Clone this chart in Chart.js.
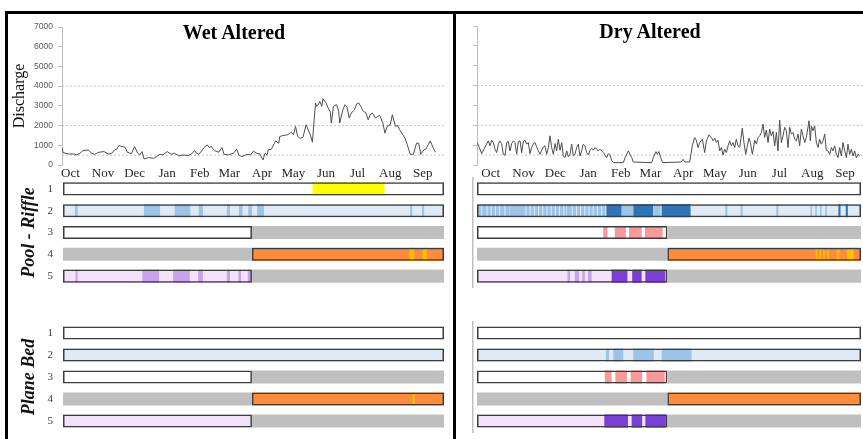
<!DOCTYPE html>
<html>
<head>
<meta charset="utf-8">
<script src="https://cdn.jsdelivr.net/npm/chart.js@4.4.1/dist/chart.umd.min.js"></script>
<style>
  body { margin: 0; background: #fff; width: 863px; height: 439px; overflow: hidden; position: relative; }
  canvas { position: absolute; }
  .line { position: absolute; background: #000; }
  .title { position: absolute; width: 240px; text-align: center; font: bold 20px "Liberation Serif", serif; line-height: 20px; color: #000; }
</style>
</head>
<body>
<canvas id="wetFlow" width="444" height="170" style="left:9px;top:15px"></canvas>
<canvas id="dryFlow" width="406" height="170" style="left:457px;top:15px"></canvas>
<canvas id="wetRiffle" width="444" height="123" style="left:9px;top:171px"></canvas>
<canvas id="dryRiffle" width="406" height="123" style="left:457px;top:171px"></canvas>
<canvas id="wetPlane" width="444" height="124" style="left:9px;top:315px"></canvas>
<canvas id="dryPlane" width="406" height="124" style="left:457px;top:315px"></canvas>

<div class="line" style="left:5px;top:11px;width:858px;height:3px"></div>
<div class="line" style="left:5px;top:11px;width:3px;height:428px"></div>
<div class="line" style="left:453px;top:11px;width:3px;height:428px"></div>
<div class="title" style="left:114px;top:22px">Wet Altered</div>
<div class="title" style="left:530px;top:21px">Dry Altered</div>

<script>
const serif = '"Liberation Serif", serif';
const sans = '"Liberation Sans", sans-serif';

const months = ["Oct", "Nov", "Dec", "Jan", "Feb", "Mar", "Apr", "May", "Jun", "Jul", "Aug", "Sep"];
const monthStart = [0, 31, 61, 92, 123, 151, 182, 212, 243, 273, 304, 335];
const guideLines = [500, 2000, 4000];
const rowLabels = ["1", "2", "3", "4", "5"];

// daily discharge, day 0 = Oct 1
const wetDay = [
  0, 1, 6, 11, 14, 17, 20, 25, 28, 31,
  35, 40, 44, 47, 50, 52, 54, 57, 60, 62,
  66, 69, 72, 74, 76, 78, 82, 87, 90, 93,
  96, 100, 104, 107, 111, 115, 120, 123, 126, 128,
  130, 133, 135, 138, 140, 142, 145, 149, 152, 154,
  158, 163, 166, 168, 171, 176, 179, 182, 185, 188,
  191, 193, 195, 196, 199, 202, 203, 206, 207, 210,
  214, 216, 218, 220, 222, 224, 226, 229, 232, 234,
  236, 238, 241, 242, 244, 245, 247, 248, 251, 253,
  255, 256, 258, 261, 263, 264, 267, 269, 271, 273,
  275, 278, 280, 282, 284, 286, 289, 291, 293, 295,
  298, 300, 302, 305, 307, 309, 312, 314, 317, 319,
  321, 324, 326, 328, 331, 334, 337, 339, 341, 344,
  346, 348, 350, 353, 355
];
const wetQ = [
  880, 630, 560, 560, 510, 595, 730, 765, 595, 545,
  645, 680, 560, 580, 765, 800, 985, 935, 900, 645,
  580, 935, 595, 510, 680, 305, 375, 340, 425, 545,
  510, 680, 545, 595, 460, 510, 475, 560, 730, 595,
  545, 730, 885, 1020, 885, 935, 730, 645, 885, 545,
  510, 595, 815, 510, 425, 545, 510, 700, 595, 560,
  255, 595, 510, 765, 800, 1105, 1225, 1105, 1445, 1495,
  1530, 1580, 1665, 1530, 1955, 1445, 1360, 1395, 2040, 1785,
  1530, 1155, 3145, 2975, 3095, 3230, 2975, 3365, 3145, 2890,
  2685, 2125, 2975, 3060, 2720, 2125, 2805, 3060, 2925, 2380,
  2635, 2805, 3095, 3145, 2975, 2755, 2635, 2295, 2550, 2635,
  2380, 2465, 2515, 2125, 1615, 1955, 2040, 2550, 1955, 2005,
  1785, 1530, 1360, 1055, 545, 545, 1105, 1105, 545, 765,
  815, 1020, 1225, 850, 645
];
const dryDay = [
  0.3, 2.2, 4.4, 6.6, 9.1, 10.7, 12.3, 13.9, 15.4, 17.0,
  18.6, 20.2, 21.7, 23.3, 24.9, 26.5, 28.1, 29.6, 31.2, 32.8,
  34.4, 35.9, 37.5, 39.1, 40.7, 42.2, 43.8, 45.4, 47.0, 48.5,
  50.1, 51.7, 53.3, 54.8, 56.4, 58.0, 59.6, 61.2, 62.7, 64.3,
  65.9, 67.5, 69.0, 70.6, 72.2, 73.8, 75.3, 76.9, 78.5, 80.1,
  81.6, 83.2, 84.8, 86.4, 87.9, 89.5, 91.1, 92.7, 94.2, 95.8,
  97.4, 99.0, 100.5, 102.1, 103.7, 105.3, 106.9, 108.4, 110.0, 111.6,
  113.2, 114.7, 116.3, 117.9, 119.5, 121.0, 122.6, 124.2, 125.8, 127.3,
  128.9, 138.4, 140.0, 143.1, 144.7, 146.3, 147.8, 165.2, 166.7, 169.3,
  170.5, 172.1, 173.7, 175.6,
  193.2, 194.8, 196.4, 201.1, 203.6, 205.8, 207.4, 209.0, 210.6, 213.1,
  215.3, 216.9, 219.4, 221.6, 223.2, 224.8, 226.3, 227.9, 229.5, 231.1,
  232.6, 234.2, 235.8, 237.4, 238.9, 240.5, 242.1, 243.7, 245.2, 246.8,
  248.4, 250.9, 252.2, 254.1, 255.3, 257.2, 258.5, 260.4, 262.6, 264.2,
  265.7, 267.3, 268.9, 270.5, 272.0, 273.6, 275.2, 276.8, 278.3, 279.9,
  281.5, 283.1, 284.6, 286.2, 287.8, 289.4, 290.9, 292.5, 294.1, 295.7,
  297.3, 298.8, 300.4, 302.0, 303.6, 305.1, 306.7, 308.3, 309.9, 311.4,
  314.0, 315.2, 316.2, 317.7, 319.3, 320.9, 322.5, 324.0, 325.6, 327.2,
  328.8, 330.3, 331.9, 333.5, 335.1, 336.6, 338.2, 339.8, 341.4, 342.9,
  344.5, 346.1, 347.7, 349.3, 350.8, 352.4, 354.0, 355.6, 357.1, 358.7,
  360.3, 361.9
];
const dryQ = [
  1130, 880, 575, 795, 1050, 1215, 965, 1250, 1130, 795,
  625, 1050, 1215, 1080, 540, 490, 1130, 1185, 710, 1080,
  1215, 1130, 540, 1185, 1215, 625, 1185, 1250, 1050, 1130,
  575, 880, 1080, 1130, 915, 710, 540, 745, 915, 965,
  540, 880, 1470, 880, 540, 1080, 710, 1300, 745, 1130,
  455, 370, 710, 405, 540, 1050, 455, 540, 880, 1050,
  455, 710, 1050, 965, 625, 505, 745, 845, 745, 880,
  795, 710, 795, 710, 625, 490, 370, 575, 490, 235,
  120, 120, 370, 710, 540, 370, 150, 120, 370, 675,
  540, 675, 370, 120,
  150, 285, 150, 150, 965, 1385, 1250, 880, 1130, 1300,
  625, 1215, 1520, 1385, 1215, 1350, 1130, 1250, 710, 880,
  505, 795, 625, 965, 1215, 965, 1130, 880, 1300, 965,
  880, 1860, 1215, 540, 880, 1350, 1130, 540, 1250, 1050,
  1385, 1470, 1640, 2060, 1385, 1760, 1130, 1810, 1470, 1690,
  965, 1640, 710, 2265, 1130, 1470, 1895, 1725, 880, 1895,
  1555, 1640, 1300, 1215, 1555, 965, 1810, 1470, 1130, 1385,
  2230, 1215, 1975, 1725, 1975, 1130, 880, 1300, 1050, 1215,
  1555, 745, 710, 540, 880, 710, 965, 540, 370, 880,
  455, 1130, 710, 370, 1050, 540, 795, 455, 710, 370,
  540, 455
];

// timeline segments: [row, startDay, endDay, state]
const outlined = [[1, 0, 365], [2, 0, 365], [3, 0, 181], [4, 181, 365], [5, 0, 181]];

const wetRiffle = [
  [1, 0, 365, "W"], [1, 239, 308, "Y"],
  [2, 0, 365, "LB"], [2, 11.5, 14, "MB"], [2, 77.5, 93, "MB"], [2, 107, 122, "MB"], [2, 130, 134, "MB"],
  [2, 157, 160, "MB"], [2, 168.5, 172, "MB"], [2, 177.5, 181, "MB"], [2, 186, 192.5, "MB"],
  [2, 332.5, 334.5, "MB"], [2, 344, 346, "MB"],
  [3, 0, 181, "W"], [3, 181, 365, "GR"],
  [4, 0, 181, "GR"], [4, 181, 365, "OR"], [4, 332, 336.5, "GD"], [4, 344.5, 348.5, "GD"],
  [5, 0, 181, "LV"], [5, 181, 365, "GR"], [5, 12, 14, "LP"], [5, 76, 92, "LP"], [5, 105.5, 121.5, "LP"],
  [5, 129.5, 134, "LP"], [5, 157, 160, "LP"], [5, 168, 170.5, "LP"], [5, 177, 180, "LP"]
];
const wetPlane = [
  [1, 0, 365, "W"],
  [2, 0, 365, "LB"],
  [3, 0, 181, "W"], [3, 181, 365, "GR"],
  [4, 0, 181, "GR"], [4, 181, 365, "OR"], [4, 335, 337, "GD"],
  [5, 0, 181, "LV"], [5, 181, 365, "GR"]
];
const dryRiffle = [
  [1, 0, 365, "W"],
  [2, 0, 365, "LB"],
  [2, 1, 4, "MB"], [2, 5, 9, "MB"], [2, 10, 13, "MB"], [2, 14, 17, "MB"], [2, 18, 21, "MB"], [2, 22, 26, "MB"],
  [2, 27, 31, "MB"], [2, 31.5, 46, "MB"], [2, 47, 50, "MB"], [2, 51, 54, "MB"], [2, 55, 58, "MB"], [2, 59, 62, "MB"],
  [2, 63, 66, "MB"], [2, 67, 70, "MB"], [2, 71, 74, "MB"], [2, 75, 78, "MB"], [2, 79, 82, "MB"], [2, 83, 85, "MB"],
  [2, 85.5, 90, "MB"], [2, 91, 94, "MB"], [2, 95, 98, "MB"], [2, 99, 102, "MB"], [2, 103, 106, "MB"],
  [2, 107, 110, "MB"], [2, 111, 114, "MB"], [2, 115, 118, "MB"], [2, 119, 122, "MB"],
  [2, 123, 137.5, "DB"], [2, 137.5, 148.5, "MB"], [2, 148.5, 167.5, "DB"], [2, 168, 174.5, "MB"], [2, 175.5, 203, "DB"],
  [2, 236, 238, "MB"], [2, 250.5, 252.5, "MB"], [2, 284.5, 286.5, "MB"], [2, 317, 318.5, "MB"], [2, 321.5, 323, "MB"],
  [2, 326, 327.5, "MB"], [2, 331, 332.5, "MB"], [2, 343.5, 345.5, "DB"], [2, 350.5, 352.5, "DB"],
  [3, 0, 181, "W"], [3, 181, 365, "GR"], [3, 120, 124, "PK"], [3, 131, 141.5, "PK"], [3, 144.5, 156.5, "PK"], [3, 159.5, 176.5, "PK"],
  [4, 0, 181, "GR"], [4, 181, 365, "OR"], [4, 322, 323.5, "GD"], [4, 325.5, 327, "GD"], [4, 329, 330.5, "GD"],
  [4, 333, 334.5, "GD"], [4, 342, 344.5, "GD"], [4, 351.5, 358, "GD"],
  [5, 0, 181, "LV"], [5, 181, 365, "GR"], [5, 86, 88.5, "LP"], [5, 93, 97, "LP"], [5, 100, 102.5, "LP"], [5, 105.5, 109, "LP"],
  [5, 128, 143, "DP"], [5, 147.5, 156.5, "DP"], [5, 160, 179, "DP"]
];
const dryPlane = [
  [1, 0, 365, "W"],
  [2, 0, 365, "LB"], [2, 122.5, 125.5, "MB"], [2, 129.5, 139, "MB"], [2, 148.5, 168, "MB"], [2, 175.5, 204, "MB"],
  [3, 0, 181, "W"], [3, 181, 365, "GR"], [3, 121.5, 128, "PK"], [3, 131.5, 142.5, "PK"], [3, 146, 157, "PK"], [3, 161, 178.5, "PK"],
  [4, 0, 181, "GR"], [4, 181, 365, "OR"],
  [5, 0, 181, "LV"], [5, 181, 365, "GR"], [5, 121, 143.5, "DP"], [5, 147, 157, "DP"], [5, 160, 179.5, "DP"]
];

const palette = {
  W: "#ffffff", LB: "#deebf7", MB: "#9dc3e6", DB: "#2e75b6", Y: "#ffff00", GR: "#bfbfbf",
  OR: "#fd8d3c", GD: "#ffc000", PK: "#f99a9a", LV: "#f3e2fa", LP: "#c9a2ee", DP: "#7a3fd6"
};
const baseStates = ["W", "LB", "LV", "GR", "OR"];

function barSets(segs) {
  const states = [...new Set(segs.map(s => s[3]))];
  const sets = states.map(k => ({
    data: segs.filter(s => s[3] === k).map(s => ({ y: String(s[0]), x: [s[1], s[2]] })),
    backgroundColor: palette[k],
    borderWidth: 0,
    grouped: false,
    barPercentage: 0.6,
    categoryPercentage: 1,
    order: baseStates.includes(k) ? 3 : 2
  }));
  sets.push({
    data: outlined.map(s => ({ y: String(s[0]), x: [s[1], s[2]] })),
    backgroundColor: "rgba(0,0,0,0)",
    borderColor: "#3c3c3c",
    borderWidth: 1.5,
    borderSkipped: false,
    grouped: false,
    barPercentage: 0.6,
    categoryPercentage: 1,
    order: 1
  });
  return sets;
}

function barChart(id, segs, o) {
  new Chart(document.getElementById(id), {
    type: "bar",
    data: { labels: rowLabels, datasets: barSets(segs) },
    options: {
      indexAxis: "y",
      responsive: false,
      animation: false,
      layout: { padding: { top: 7, bottom: 7, right: o.padR, left: 0 } },
      plugins: { legend: { display: false }, tooltip: { enabled: false } },
      scales: {
        x: { type: "linear", min: o.xMin, max: 365, display: false },
        y: {
          type: "category",
          grid: { display: false, drawTicks: true, tickLength: 10 },
          border: { display: o.axisLine, color: "#bfbfbf", width: 1.5 },
          ticks: { display: o.rowNums, font: { family: serif, size: 11 }, color: "#404040", padding: 0 },
          title: {
            display: !!o.title, text: o.title, color: "#111",
            font: { family: serif, size: 18, weight: "bold", style: "italic" },
            padding: { top: 10, bottom: 0 }
          },
          afterFit(s) { s.width = o.axisW; }
        }
      }
    }
  });
}

function flowChart(id, days, flows, o) {
  const guides = guideLines.map(v => ({
    data: [{ x: 0, y: v }, { x: 365, y: v }],
    borderColor: "#c4c4c4", borderWidth: 1, borderDash: [2, 2], pointRadius: 0
  }));
  new Chart(document.getElementById(id), {
    type: "line",
    data: {
      datasets: [
        { data: days.map((d, i) => ({ x: d, y: flows[i] })), borderColor: "#4d4d4d", borderWidth: 1, pointRadius: 0 },
        ...guides
      ]
    },
    options: {
      responsive: false,
      animation: false,
      layout: { padding: { top: o.padT, right: o.padR, left: 0, bottom: 0 } },
      plugins: { legend: { display: false }, tooltip: { enabled: false } },
      scales: {
        x: {
          type: "linear", min: 0, max: 365,
          grid: { display: false, drawTicks: false }, border: { display: false },
          afterBuildTicks(s) { s.ticks = monthStart.map(d => ({ value: d + o.labelShift })); },
          ticks: {
            autoSkip: false, maxRotation: 0, padding: 1, color: "#262626",
            font: { family: serif, size: 13 },
            callback: (v, i) => months[i]
          },
          afterFit(s) { s.height = 20; }
        },
        y: {
          min: 0, max: 7000,
          grid: { color: "rgba(0,0,0,0)", tickColor: "#bfbfbf", tickLength: 4, drawTicks: true },
          border: { display: true, color: "#bfbfbf" },
          ticks: {
            stepSize: 1000, display: o.yLabels, color: "#595959", padding: 5,
            font: { family: sans, size: 8.5 },
            callback: v => String(v)
          },
          title: {
            display: !!o.title, text: o.title, color: "#111",
            font: { family: serif, size: 16 }, padding: { top: 1, bottom: 0 }
          },
          afterFit(s) { s.width = o.axisW; }
        }
      }
    }
  });
}

flowChart("wetFlow", wetDay, wetQ, { padT: 12, padR: 7, axisW: 53, labelShift: 8, yLabels: true, title: "Discharge" });
flowChart("dryFlow", dryDay, dryQ, { padT: 11, padR: 0, axisW: 20, labelShift: 13, yLabels: false, title: "" });

barChart("wetRiffle", wetRiffle, { padR: 9, axisW: 54, xMin: 0, axisLine: false, rowNums: true, title: "Pool - Riffle" });
barChart("dryRiffle", dryRiffle, { padR: 2, axisW: 16, xMin: -3.8, axisLine: true, rowNums: false, title: "" });
barChart("wetPlane", wetPlane, { padR: 9, axisW: 54, xMin: 0, axisLine: false, rowNums: true, title: "Plane Bed" });
barChart("dryPlane", dryPlane, { padR: 2, axisW: 16, xMin: -3.8, axisLine: true, rowNums: false, title: "" });
</script>
</body>
</html>
